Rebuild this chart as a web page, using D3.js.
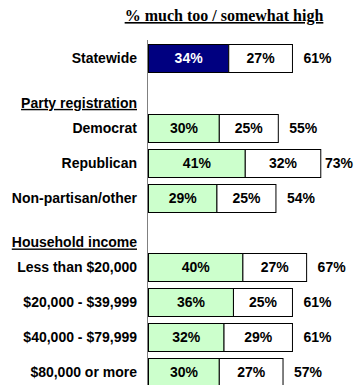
<!DOCTYPE html>
<html><head><meta charset="utf-8">
<script src="https://cdn.jsdelivr.net/npm/d3@7"></script>
<style>body{margin:0;background:#fff;}svg{display:block;}</style>
</head><body>
<script>
const title = "% much too / somewhat high";
const categories = ["Statewide", "Party registration", "Democrat", "Republican", "Non-partisan/other",
  "Household income", "Less than $20,000", "$20,000 - $39,999", "$40,000 - $79,999", "$80,000 or more"];
const headers = ["Party registration", "Household income"];
const muchTooHigh =     [34, null, 30, 41, 29, null, 40, 36, 32, 30];
const somewhatHigh =    [27, null, 25, 32, 25, null, 27, 25, 29, 27];
const totals =          [61, null, 55, 73, 54, null, 67, 61, 61, 57];

const W = 362, H = 385;
const svg = d3.select("body").append("svg").attr("width", W).attr("height", H);

const x = d3.scaleLinear().domain([0, 100]).range([148.5, 148.5 + 236]);
const y = d3.scaleBand().domain(categories).range([40.5, 389.5]).paddingInner(0.2).paddingOuter(0.1);

const font = "'Liberation Sans', Arial, sans-serif";

// title
const t = svg.append("text").attr("x", 224).attr("y", 21)
  .attr("text-anchor", "middle").attr("font-family", "'Liberation Serif', 'Times New Roman', serif")
  .attr("font-weight", "bold").attr("font-size", 16).attr("text-decoration", "underline")
  .text(title);

const data = categories.map((c, i) => ({c, a: muchTooHigh[i], b: somewhatHigh[i], tot: totals[i], i}));

// axis line
svg.append("line").attr("x1", 147.5).attr("x2", 147.5).attr("y1", 40).attr("y2", H)
  .attr("stroke", "#808080").attr("stroke-width", 1);

const rows = data.filter(d => d.a != null);
const bh = y.bandwidth();
// first segment
svg.selectAll("rect.a").data(rows).enter().append("rect")
  .attr("x", x(0)).attr("y", d => Math.round(y(d.c)) + 0.5)
  .attr("width", d => x(d.a) - x(0)).attr("height", Math.round(bh))
  .attr("fill", d => d.i === 0 ? "#000080" : "#CCFFCC")
  .attr("stroke", "#000").attr("stroke-width", 1);
// second segment
svg.selectAll("rect.b").data(rows).enter().append("rect")
  .attr("x", d => x(d.a)).attr("y", d => Math.round(y(d.c)) + 0.5)
  .attr("width", d => x(d.a + d.b) - x(d.a)).attr("height", Math.round(bh))
  .attr("fill", "#fff").attr("stroke", "#000").attr("stroke-width", 1);

const cy = d => y(d.c) + bh / 2;
const lab = (sel) => sel.attr("font-family", font).attr("font-weight", "bold").attr("font-size", 14).attr("dy", "0.36em");

lab(svg.selectAll("text.va").data(rows).enter().append("text")
  .attr("x", d => (x(0) + x(d.a)) / 2).attr("y", cy).attr("text-anchor", "middle")
  .attr("fill", d => d.i === 0 ? "#fff" : "#000").text(d => d.a + "%"));
lab(svg.selectAll("text.vb").data(rows).enter().append("text")
  .attr("x", d => (x(d.a) + x(d.a + d.b)) / 2).attr("y", cy).attr("text-anchor", "middle")
  .attr("fill", "#000").text(d => d.b + "%"));
lab(svg.selectAll("text.vt").data(rows).enter().append("text")
  .attr("x", d => Math.min(x(d.a + d.b) + 11, 325)).attr("y", cy).attr("text-anchor", "start")
  .attr("fill", "#000").text(d => d.tot + "%"));

// category labels
lab(svg.selectAll("text.cat").data(data).enter().append("text")
  .attr("x", 137).attr("y", d => cy(d) + (headers.includes(d.c) ? 10 : 0))
  .attr("text-anchor", "end").attr("fill", "#000")
  .attr("text-decoration", d => headers.includes(d.c) ? "underline" : null)
  .text(d => d.c));
</script>
</body></html>
